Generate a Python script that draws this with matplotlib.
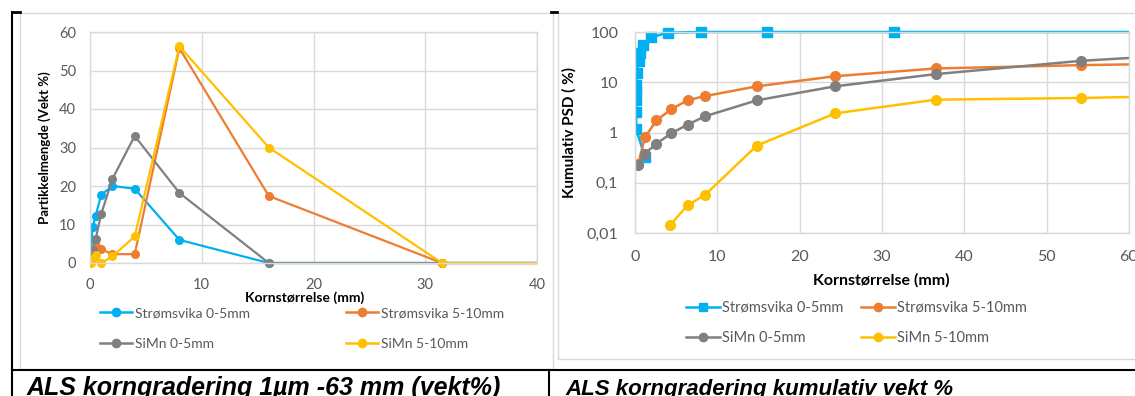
import matplotlib
matplotlib.use("Agg")
import matplotlib.pyplot as plt
from matplotlib.lines import Line2D
from matplotlib.patches import Rectangle
from matplotlib.ticker import FixedLocator, FuncFormatter, NullLocator

# ---- left chart: fraction per size class (vekt %) ----
sizes = [0.063, 0.125, 0.25, 0.5, 1, 2, 4, 8, 16, 31.5, 63]
strom_05 = [1.6, 6.2, 9.4, 12.2, 17.7, 20.0, 19.3, 6.0, 0, 0, 0]
strom_510 = [0.5, 1.0, 2.5, 4.5, 3.6, 2.3, 2.3, 55.8, 17.4, 0, 0]
simn_05 = [0.3, 1.2, 3.5, 6.2, 12.7, 21.8, 33.0, 18.2, 0, 0, 0]
simn_510 = [0.0, 0.3, 1.0, 2.0, 0.0, 1.7, 6.9, 56.3, 30.0, 0, 0]

# ---- right chart: cumulative PSD (%) ----
cum_strom_05_x = [1.2, 0.15, 0.15, 0.1, 0.1, 0.15, 0.2, 0.45, 0.6, 1.0, 2.0, 4.0, 8.0, 16.0, 31.5, 63.0]
cum_strom_05 = [0.33, 1.15, 2.6, 4.4, 6.8, 8.7, 15.0, 26.0, 38.0, 55.0, 79.0, 97.0, 100, 100, 100, 100]
cum_x = [0.4, 1.2, 2.6, 4.4, 6.4, 8.5, 14.8, 24.3, 36.5, 54.2, 70.0]
cum_strom_510 = [0.24, 0.8, 1.74, 2.9, 4.4, 5.3, 8.3, 13.2, 18.8, 21.9, 24.0]
cum_simn_05 = [0.23, 0.38, 0.6, 0.96, 1.44, 2.1, 4.37, 8.3, 14.5, 26.7, 38.0]
cum_simn_510_x = [4.3, 6.4, 8.5, 14.8, 24.3, 36.5, 54.2, 70.0]
cum_simn_510 = [0.0145, 0.036, 0.057, 0.55, 2.4, 4.5, 4.86, 5.5]

labels = ["Strømsvika 0-5mm", "Strømsvika 5-10mm", "SiMn 0-5mm", "SiMn 5-10mm"]
colors = ["#00B0F0", "#ED7D31", "#808080", "#FFC000"]

plt.rcParams['font.family'] = ['Lato', 'DejaVu Sans']
W, H = 1135, 396
fig = plt.figure(figsize=(W / 100, H / 100), dpi=100)
tick_c = "#595959"
grid_c = "#D9D9D9"


def px_axes(x0, y0, x1, y1):
    return fig.add_axes([x0 / W, 1 - y1 / H, (x1 - x0) / W, (y1 - y0) / H])


def style(ax):
    for s in ax.spines.values():
        s.set_color(grid_c)
        s.set_linewidth(1)
    ax.tick_params(length=0, colors=tick_c, labelsize=10.5)
    ax.grid(True, color=grid_c, linewidth=1)
    ax.set_axisbelow(True)


def clip_x(ax, line):
    # clip only left/right so markers on the top/bottom edge stay whole
    line.set_clip_path(Rectangle((0, -0.2), 1, 1.4, transform=ax.transAxes))


def fx(x, y):
    return x / W, 1 - y / H


# chart frames and table lines
fig.add_artist(Rectangle(fx(20, 369), 533 / W, 356 / H, fill=False, ec="#D9D9D9", lw=1, transform=fig.transFigure))
fig.add_artist(Rectangle(fx(558, 359), 600 / W, 346 / H, fill=False, ec="#D9D9D9", lw=1, transform=fig.transFigure))
fig.add_artist(Line2D([12 / W, 12 / W], [0, 1 - 12 / H], color="black", lw=1.5, transform=fig.transFigure))
fig.add_artist(Line2D([12 / W, 1], [1 - 370 / H] * 2, color="black", lw=1.5, transform=fig.transFigure))
fig.add_artist(Line2D([549 / W, 549 / W], [0, 1 - 370 / H], color="black", lw=1.5, transform=fig.transFigure))
fig.add_artist(Line2D([12 / W, 20 / W], [1 - 12 / H] * 2, color="black", lw=2, transform=fig.transFigure))
fig.add_artist(Line2D([551 / W, 557 / W], [1 - 12 / H] * 2, color="black", lw=2, transform=fig.transFigure))

# ---- left chart ----
ax1 = px_axes(90, 32, 537, 263)
style(ax1)
for y, c in zip([strom_05, strom_510, simn_05, simn_510], colors):
    ln, = ax1.plot(sizes, y, color=c, lw=1.6, marker="o", ms=5.5)
    clip_x(ax1, ln)
ax1.set_xlim(0, 40)
ax1.set_ylim(0, 60)
ax1.set_xticks(range(0, 41, 10))
ax1.set_yticks(range(0, 61, 10))
ax1.tick_params(axis="y", pad=10)
ax1.tick_params(axis="x", pad=11)
ax1.set_ylabel("Partikkelmengde (Vekt %)", fontsize=9.5, fontweight="bold", color="#000000", labelpad=6)
fig.text(305 / W, 1 - 298 / H, "Kornstørrelse (mm)", fontsize=10, fontweight="bold", ha="center", va="center")

# ---- right chart ----
ax2 = px_axes(635, 32, 1129, 233)
style(ax2)
ax2.set_yscale("log")
series = [
    (cum_strom_05_x, cum_strom_05, "s", 6.5),
    (cum_x, cum_strom_510, "o", 7),
    (cum_x, cum_simn_05, "o", 7),
    (cum_simn_510_x, cum_simn_510, "o", 7),
]
for (x, y, m, ms), c in zip(series, colors):
    ln, = ax2.plot(x, y, color=c, lw=1.8, marker=m, ms=ms)
    clip_x(ax2, ln)
ax2.set_xlim(0, 60)
ax2.set_ylim(0.01, 100)
ax2.set_xticks(range(0, 61, 10))
ax2.yaxis.set_major_locator(FixedLocator([0.01, 0.1, 1, 10, 100]))
ax2.yaxis.set_minor_locator(NullLocator())
ax2.yaxis.set_major_formatter(FuncFormatter(lambda v, p: ("%g" % v).replace(".", ",")))
ax2.tick_params(labelsize=11.5)
ax2.tick_params(axis="y", pad=12)
ax2.tick_params(axis="x", pad=12)
ax2.set_ylabel("Kumulativ PSD ( %)", fontsize=11, fontweight="bold", labelpad=7)
fig.text(881 / W, 1 - 280 / H, "Kornstørrelse (mm)", fontsize=11.5, fontweight="bold", ha="center", va="center")


# ---- legends ----
def leg(x, y, i, marker, fs):
    h = Line2D([], [], color=colors[i], lw=1.8, marker=marker, ms=6)
    fig.legend(handles=[h], labels=[labels[i]], loc="center left", bbox_to_anchor=(x / W, 1 - y / H),
               frameon=False, fontsize=fs, handlelength=2.3, handletextpad=0.2, borderpad=0,
               borderaxespad=0, labelcolor=tick_c)


leg(100, 313, 0, "o", 10)
leg(346, 313, 1, "o", 10)
leg(100, 344, 2, "o", 10)
leg(346, 344, 3, "o", 10)
leg(686, 308, 0, "s", 10.5)
leg(861, 308, 1, "o", 10.5)
leg(686, 338, 2, "o", 10.5)
leg(861, 338, 3, "o", 10.5)

# ---- captions ----
cap = dict(family="Liberation Sans", fontweight="bold", fontstyle="italic", va="baseline")
fig.text(27 / W, 1 - 395 / H, "ALS korngradering 1µm -63 mm (vekt%)", fontsize=18, **cap)
fig.text(565 / W, 1 - 395 / H, "ALS korngradering kumulativ vekt %", fontsize=16, **cap)

fig.savefig("out.png", dpi=100)
